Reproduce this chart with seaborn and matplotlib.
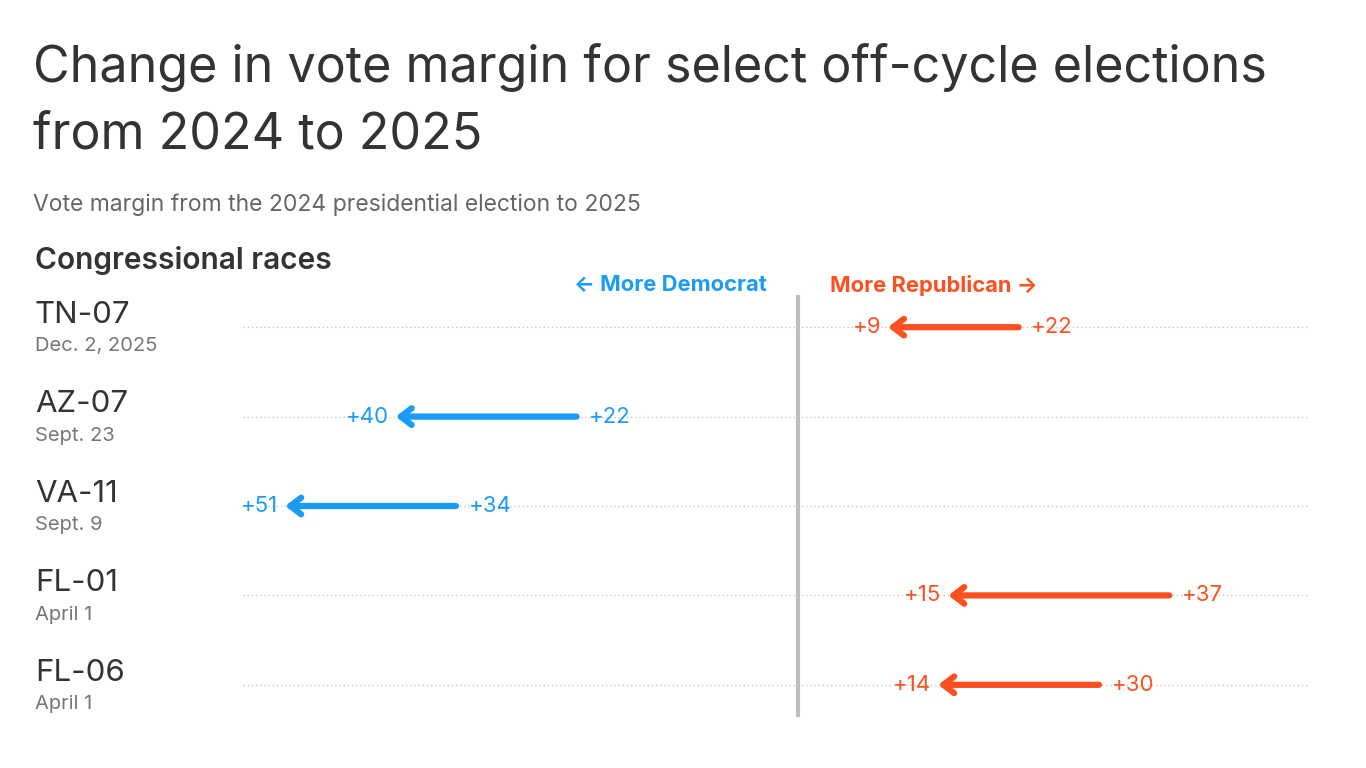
import matplotlib
matplotlib.use("Agg")
import matplotlib.pyplot as plt
import matplotlib.transforms as mtransforms
import seaborn as sns

races = ["TN-07", "AZ-07", "VA-11", "FL-01", "FL-06"]
dates = ["Dec. 2, 2025", "Sept. 23", "Sept. 9", "April 1", "April 1"]
# signed margins: Democrat negative, Republican positive
margin_2024 = [22, -22, -34, 37, 30]
margin_2025 = [9, -40, -51, 15, 14]

BLUE = "#1a9cf6"
RED = "#fd5020"
DARK = "#333333"
GRAY = "#777777"

sns.set_theme(style="white")
plt.rcParams["font.family"] = ["Inter", "DejaVu Sans"]

fig = plt.figure(figsize=(13.66, 7.68), dpi=100)
ax = fig.add_axes([243 / 1366, 1 - 717 / 768, (1310 - 243) / 1366, (717 - 295) / 768])
ax.set_xlim(-55.2, 51)
ax.set_ylim(len(races) - 1 + 0.36, -0.36)
ax.axis("off")

# dotted row guides and center line
for i in range(len(races)):
    ax.axhline(i, color="#c8c8c8", lw=1, ls=(0, (1, 2)), zorder=0)
ax.axvline(0, color="#bdbdbd", lw=3, zorder=1)

for i, (a, b) in enumerate(zip(margin_2024, margin_2025)):
    c = RED if a > 0 else BLUE
    ax.annotate("", xy=(b, i), xytext=(a, i),
                arrowprops=dict(arrowstyle="->,head_length=0.65,head_width=0.5",
                                color=c, lw=4.5, capstyle="round",
                                joinstyle="round", shrinkA=0, shrinkB=0),
                zorder=3)
    # start label (tail side)
    sgn = 1 if a > b else -1
    ax.annotate(f"+{abs(a)}", xy=(a, i), xytext=(9 * sgn, 0), textcoords="offset points",
                ha="left" if sgn > 0 else "right", va="center", color=c, fontsize=16)
    ax.annotate(f"+{abs(b)}", xy=(b, i), xytext=(-5 * sgn, 0), textcoords="offset points",
                ha="right" if sgn > 0 else "left", va="center", color=c, fontsize=16)

# row labels
trans = mtransforms.blended_transform_factory(fig.transFigure, ax.transData)
for i, (r, d) in enumerate(zip(races, dates)):
    ax.annotate(r, xy=(35 / 1366, i), xycoords=trans, xytext=(0, 3),
                textcoords="offset points", ha="left", va="baseline",
                color=DARK, fontsize=22.5)
    ax.annotate(d, xy=(35 / 1366, i), xycoords=trans, xytext=(0, -17.5),
                textcoords="offset points", ha="left", va="baseline",
                color=GRAY, fontsize=14.5)

# direction labels
fig.text(767 / 1366, 1 - 285 / 768, "\u2190 More Democrat", ha="right", va="center",
         color=BLUE, fontsize=15.8, fontweight="bold")
fig.text(830 / 1366, 1 - 285 / 768, "More Republican \u2192", ha="left", va="center",
         color=RED, fontsize=15.8, fontweight="bold")

fig.text(33 / 1366, 1 - 67 / 768, "Change in vote margin for select off-cycle elections",
         ha="left", va="center", color=DARK, fontsize=36.2)
fig.text(33 / 1366, 1 - 135 / 768, "from 2024 to 2025",
         ha="left", va="center", color=DARK, fontsize=36.2)
fig.text(33 / 1366, 1 - 205 / 768, "Vote margin from the 2024 presidential election to 2025",
         ha="left", va="center", color="#666666", fontsize=16.5)
fig.text(35 / 1366, 1 - 260 / 768, "Congressional races",
         ha="left", va="center", color=DARK, fontsize=21.5, fontweight="semibold")

fig.savefig("out.png", dpi=100)
